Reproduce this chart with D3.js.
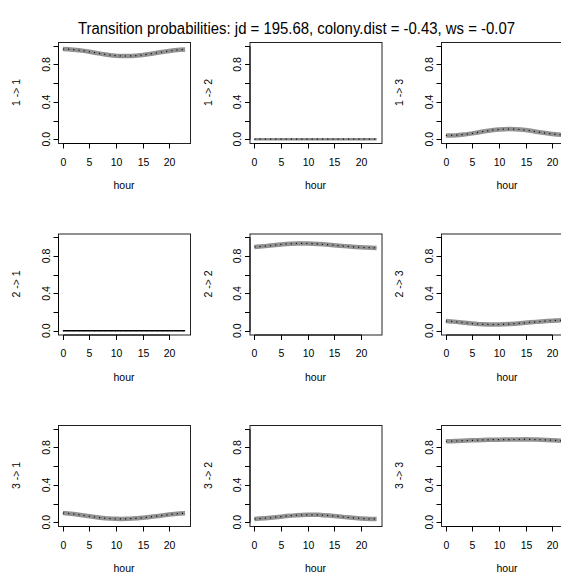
<!DOCTYPE html>
<html><head><meta charset="utf-8">
<script src="https://cdn.jsdelivr.net/npm/d3@7"></script>
<style>body{margin:0;background:#fff}svg{display:block}text{font-family:"Liberation Sans",Arial,sans-serif;fill:#000}</style>
</head><body><svg id="c" width="561" height="577"></svg>
<script>
const title = "Transition probabilities: jd = 195.68, colony.dist = -0.43, ws = -0.07";
const hours = d3.range(0, 24);
const labels = ["1 -> 1","1 -> 2","1 -> 3","2 -> 1","2 -> 2","2 -> 3","3 -> 1","3 -> 2","3 -> 3"];
const p11 = [0.965,0.963,0.958,0.952,0.945,0.936,0.926,0.916,0.907,0.899,0.894,0.891,0.890,0.891,0.895,0.901,0.909,0.918,0.927,0.936,0.944,0.951,0.957,0.961];
const p12 = [0.001,0.001,0.001,0.001,0.001,0.001,0.001,0.001,0.001,0.001,0.001,0.001,0.001,0.001,0.001,0.001,0.001,0.001,0.001,0.001,0.001,0.001,0.001,0.001];
const p13 = [0.040,0.041,0.044,0.049,0.055,0.063,0.073,0.083,0.092,0.100,0.105,0.108,0.109,0.108,0.104,0.098,0.090,0.081,0.072,0.064,0.057,0.051,0.046,0.043];
const p21 = [0.000,0.000,0.000,0.000,0.000,0.000,0.000,0.000,0.000,0.000,0.000,0.000,0.000,0.000,0.000,0.000,0.000,0.000,0.000,0.000,0.000,0.000,0.000,0.000];
const p22 = [0.896,0.900,0.905,0.911,0.917,0.923,0.928,0.931,0.933,0.934,0.933,0.931,0.928,0.924,0.920,0.915,0.910,0.905,0.900,0.896,0.892,0.889,0.887,0.885];
const p23 = [0.104,0.100,0.095,0.089,0.083,0.077,0.072,0.069,0.067,0.066,0.067,0.069,0.072,0.076,0.080,0.085,0.090,0.095,0.100,0.104,0.108,0.111,0.113,0.115];
const p31 = [0.098,0.094,0.088,0.080,0.072,0.064,0.056,0.049,0.043,0.039,0.037,0.036,0.037,0.039,0.043,0.048,0.054,0.061,0.068,0.075,0.082,0.088,0.093,0.097];
const p32 = [0.036,0.039,0.043,0.048,0.054,0.060,0.066,0.071,0.075,0.078,0.080,0.080,0.079,0.076,0.072,0.067,0.061,0.055,0.050,0.045,0.041,0.038,0.036,0.035];
const p33 = [0.866,0.867,0.869,0.872,0.874,0.876,0.878,0.880,0.882,0.883,0.883,0.884,0.884,0.885,0.886,0.887,0.886,0.884,0.882,0.880,0.877,0.874,0.871,0.868];
const series = [p11,p12,p13,p21,p22,p23,p31,p32,p33];
const xTicks = [0,5,10,15,20];
const yTicks = [0,0.2,0.4,0.6,0.8,1.0];
const yLabelTicks = [0,0.4,0.8];

// styling / layout (not data)
const bandWidth = [4.5,2.5,4.5,1.5,4.5,4.5,4.5,4.5,4.5];
const bandColor = ["#929292","#8a8a8a","#929292","#000","#929292","#929292","#929292","#929292","#929292"];
const svg = d3.select("#c");
const cellW = 191.5, cellH = 191.5;
const boxL = 58, boxT = 42, boxW = 132, boxH = 101;

svg.append("text").attr("x", 296.5).attr("y", 34).attr("text-anchor","middle")
  .attr("font-size", 16).attr("textLength", 437).attr("lengthAdjust","spacingAndGlyphs").text(title);

series.forEach((vals, i) => {
  const r = Math.floor(i/3), c = i % 3;
  const x0 = boxL + c*cellW, y0 = boxT + r*cellH;
  const g = svg.append("g");
  const x = d3.scaleLinear().domain([-0.92, 23.92]).range([x0, x0+boxW]);
  const y = d3.scaleLinear().domain([-0.04, 1.04]).range([y0+boxH, y0]);
  const line = d3.line().x((d,j)=>x(hours[j])).y(d=>y(d));
  g.append("path").datum(vals).attr("d", line).attr("fill","none")
    .attr("stroke", bandColor[i]).attr("stroke-width", bandWidth[i]);
  g.append("path").datum(vals).attr("d", line).attr("fill","none")
    .attr("stroke", "#111").attr("stroke-width", 1.2).attr("stroke-dasharray","1.2,4");
  g.append("rect").attr("x", x0+0.5).attr("y", y0+0.5).attr("width", boxW).attr("height", boxH)
    .attr("fill","none").attr("stroke","#222").attr("stroke-width",1);
  // x axis
  const xa = g.append("g").attr("transform", `translate(0,${y0+boxH+0.5})`);
  xa.append("line").attr("x1", Math.round(x(0))+0.5).attr("x2", Math.round(x(20))+0.5).attr("stroke","#000");
  xTicks.forEach(t => {
    const px = Math.round(x(t))+0.5;
    xa.append("line").attr("x1",px).attr("x2",px).attr("y1",0).attr("y2",5).attr("stroke","#000");
    xa.append("text").attr("x", px).attr("y", 22).attr("text-anchor","middle").attr("font-size",10.5).text(t);
  });
  g.append("text").attr("x", x0+boxW/2).attr("y", y0+boxH+46).attr("text-anchor","middle").attr("font-size",10.5).text("hour");
  // y axis
  const ya = g.append("g").attr("transform", `translate(${x0+0.5},0)`);
  ya.append("line").attr("y1", Math.round(y(0))+0.5).attr("y2", Math.round(y(1))+0.5).attr("stroke","#000");
  yTicks.forEach(t => {
    const py = Math.round(y(t))+0.5;
    ya.append("line").attr("x1",0).attr("x2",-5).attr("y1",py).attr("y2",py).attr("stroke","#000");
  });
  yLabelTicks.forEach(t => {
    const py = y(t);
    ya.append("text").attr("transform", `translate(-9,${py}) rotate(-90)`).attr("text-anchor","middle")
      .attr("font-size",10.5).text(d3.format(".1f")(t));
  });
  g.append("text").attr("transform", `translate(${x0-38},${y0+boxH/2}) rotate(-90)`).attr("text-anchor","middle")
    .attr("font-size",10.5).text(labels[i]);
});
</script></body></html>
